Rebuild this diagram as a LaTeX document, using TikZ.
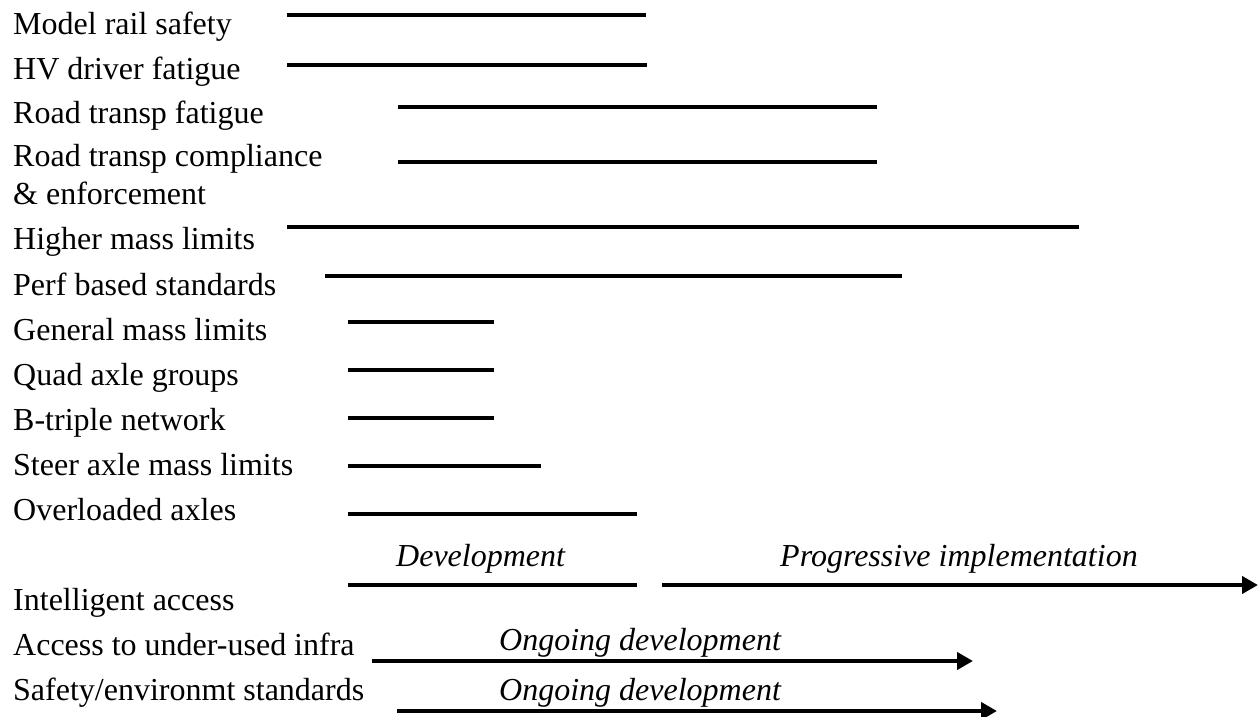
\documentclass[tikz,border=0pt]{standalone}
\usepackage{fontspec}
\setmainfont{Liberation Serif}
\usetikzlibrary{arrows.meta}
\begin{document}
\begin{tikzpicture}[x=1pt,y=-1pt,
  lbl/.style={anchor=base west,inner sep=0pt,font=\fontsize{32}{38}\selectfont},
  phase/.style={anchor=base west,inner sep=0pt,font=\fontsize{32}{38}\selectfont\itshape},
  bar/.style={line width=4pt,line cap=butt},
  arr/.style={line width=4pt,-{Triangle[length=16pt,width=17pt]}}]
\useasboundingbox (0,0) rectangle (1258,717);
% labels
\node[lbl] (l1) at (13,35) {Model rail safety};
\node[lbl] (l2) at (13,79) {HV driver fatigue};
\node[lbl] (l3) at (13,123) {Road transp fatigue};
\node[lbl] (l4) at (13,166) {Road transp compliance};
\node[lbl] (l4b) at (13,204) {\& enforcement};
\node[lbl] (l5) at (13,249) {Higher mass limits};
\node[lbl] (l6) at (13,295) {Perf based standards};
\node[lbl] (l7) at (13,340) {General mass limits};
\node[lbl] (l8) at (13,385) {Quad axle groups};
\node[lbl] (l9) at (13,430) {B-triple network};
\node[lbl] (l10) at (13,475) {Steer axle mass limits};
\node[lbl] (l11) at (13,520) {Overloaded axles};
\node[lbl] (l12) at (13,610) {Intelligent access};
\node[lbl] (l13) at (13,655) {Access to under-used infra};
\node[lbl] (l14) at (13,700) {Safety/environmt standards};
% phase texts
\node[phase] (p1) at (396,566) {Development};
\node[phase] (p2) at (780,566) {Progressive implementation};
\node[phase] (p3) at (499,650) {Ongoing development};
\node[phase] (p4) at (499,700) {Ongoing development};
% bars
\draw[bar] (287,15) -- (646,15);
\draw[bar] (287,65) -- (647,65);
\draw[bar] (398,107) -- (877,107);
\draw[bar] (398,162) -- (877,162);
\draw[bar] (287,227) -- (1079,227);
\draw[bar] (325,276) -- (902,276);
\draw[bar] (348,322) -- (494,322);
\draw[bar] (348,370) -- (494,370);
\draw[bar] (348,418) -- (494,418);
\draw[bar] (348,466) -- (541,466);
\draw[bar] (348,514) -- (637,514);
\draw[bar] (348,585) -- (637,585);
\draw[arr] (662,585) -- (1258,585);
\draw[arr] (372,661) -- (973,661);
\draw[arr] (397,711) -- (997,711);
\end{tikzpicture}
\end{document}
